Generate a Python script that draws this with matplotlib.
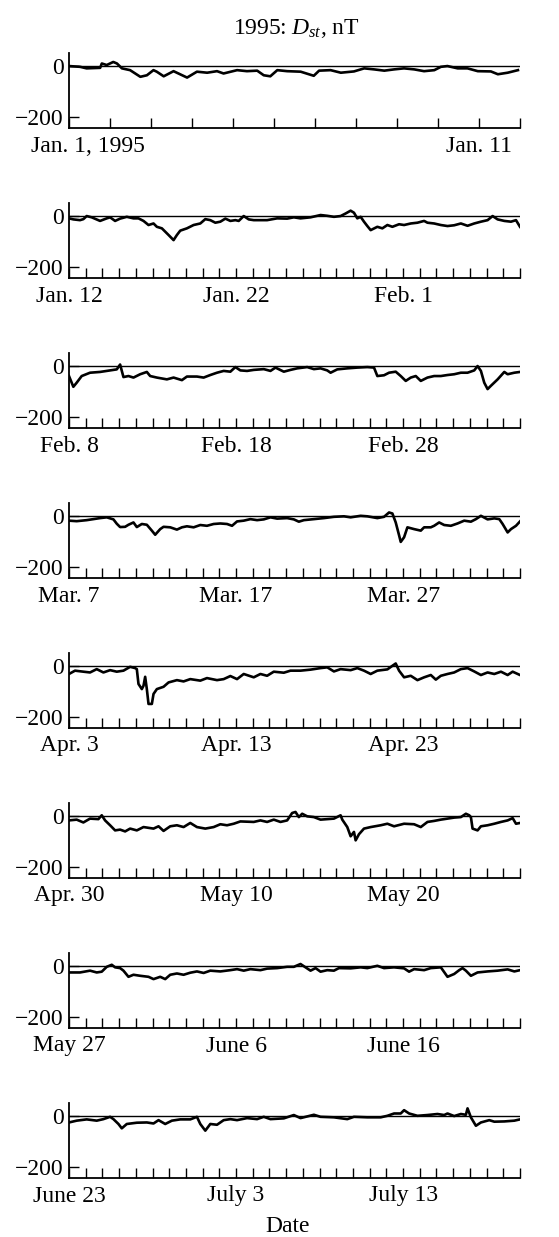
import matplotlib
matplotlib.use("Agg")
import matplotlib.pyplot as plt

plt.rcParams['font.family'] = ['Liberation Serif', 'DejaVu Serif']
plt.rcParams['mathtext.fontset'] = 'custom'
plt.rcParams['mathtext.rm'] = 'Liberation Serif'
plt.rcParams['mathtext.it'] = 'Liberation Serif:italic'

# ---- data: (day offset from panel start, Dst in nT) ----
jan01 = [(0.00, 0), (0.27, -3), (0.43, -9), (0.76, -7), (0.80, 10), (0.92, 4), (1.08, 16),
         (1.17, 10), (1.29, -9), (1.49, -16), (1.74, -42), (1.90, -36), (2.06, -16),
         (2.14, -22), (2.31, -40), (2.55, -20), (2.88, -45), (3.12, -22), (3.37, -26),
         (3.61, -20), (3.77, -29), (4.10, -16), (4.34, -20), (4.59, -18), (4.75, -36),
         (4.91, -40), (5.08, -16), (5.32, -20), (5.65, -22), (5.97, -38), (6.10, -18),
         (6.38, -16), (6.63, -26), (6.95, -21), (7.20, -9), (7.44, -13), (7.69, -18),
         (7.93, -13), (8.17, -9), (8.42, -13), (8.66, -20), (8.91, -16), (9.07, -3),
         (9.23, 0), (9.48, -9), (9.72, -9), (9.97, -20), (10.29, -21), (10.46, -32),
         (10.70, -26), (10.95, -16)]

jan12 = [(0, -9), (0.26, -13), (0.66, -16), (0.86, -12), (1.06, 0), (1.36, -5), (1.86, -19),
         (2.26, -9), (2.46, -5), (2.76, -19), (3.06, -10), (3.46, -3), (3.86, -9), (4.16, -9),
         (4.46, -19), (4.76, -35), (5.06, -29), (5.26, -42), (5.56, -48), (5.76, -61),
         (5.96, -74), (6.26, -94), (6.46, -74), (6.66, -57), (7.06, -48), (7.46, -35),
         (7.86, -29), (8.16, -12), (8.46, -16), (8.76, -26), (9.06, -22), (9.36, -10),
         (9.66, -19), (9.96, -16), (10.16, -19), (10.46, 0), (10.76, -13), (11.06, -16),
         (11.86, -16), (12.46, -9), (13.06, -10), (13.46, -5), (13.86, -9), (14.46, -5),
         (15.06, 4), (15.46, 1), (15.86, -3), (16.26, 0), (16.56, 10), (16.86, 21),
         (17.06, 13), (17.26, -9), (17.46, -3), (17.66, -22), (17.86, -39), (18.06, -55),
         (18.46, -42), (18.76, -48), (19.06, -35), (19.36, -42), (19.76, -32), (20.06, -35),
         (20.46, -29), (20.86, -26), (21.26, -19), (21.46, -26), (21.86, -29), (22.26, -35),
         (22.66, -39), (23.06, -36), (23.46, -29), (23.86, -38), (24.26, -29), (24.66, -22),
         (25.06, -16), (25.36, 0), (25.66, -13), (26.06, -19), (26.46, -22), (26.76, -16),
         (27.0, -42)]

feb08 = [(0, -39), (0.26, -81), (0.46, -65), (0.76, -39), (1.26, -26), (1.86, -23), (2.46, -17),
         (2.86, -13), (3.06, 6), (3.26, -43), (3.56, -39), (3.86, -45), (4.26, -32), (4.66, -23),
         (4.86, -39), (5.26, -45), (5.86, -52), (6.26, -45), (6.76, -55), (7.06, -41),
         (7.66, -41), (8.06, -45), (8.46, -35), (8.86, -26), (9.26, -19), (9.66, -22),
         (9.96, -4), (10.26, -17), (10.66, -19), (11.06, -15), (11.66, -12), (12.06, -19),
         (12.36, -6), (12.86, -22), (13.26, -15), (13.66, -9), (14.26, -4), (14.66, -12),
         (15.06, -9), (15.46, -17), (15.66, -26), (16.06, -13), (16.66, -9), (17.26, -6),
         (17.86, -4), (18.26, -6), (18.46, -39), (18.86, -36), (19.16, -26), (19.56, -22),
         (19.86, -39), (20.16, -58), (20.46, -45), (20.76, -39), (21.06, -58), (21.46, -45),
         (21.86, -39), (22.26, -39), (22.66, -35), (23.06, -32), (23.46, -26), (23.86, -26),
         (24.26, -17), (24.46, 0), (24.66, -19), (24.86, -65), (25.06, -90), (25.26, -77),
         (25.66, -52), (26.06, -23), (26.26, -32), (26.66, -26), (27.0, -23)]

mar07 = [(0, -18), (0.46, -20), (1.06, -16), (1.46, -12), (1.86, -8), (2.26, -5), (2.66, -13),
         (2.86, -30), (3.06, -43), (3.36, -42), (3.56, -34), (3.86, -25), (4.06, -43),
         (4.36, -31), (4.66, -34), (4.96, -57), (5.16, -73), (5.46, -51), (5.66, -42),
         (6.06, -44), (6.46, -53), (6.76, -44), (7.06, -40), (7.46, -44), (7.86, -35),
         (8.26, -38), (8.66, -31), (9.06, -29), (9.46, -31), (9.76, -38), (10.06, -21),
         (10.46, -18), (10.86, -12), (11.26, -16), (11.66, -13), (12.06, -5), (12.46, -10),
         (13.06, -8), (13.46, -13), (13.76, -22), (14.06, -16), (14.66, -12), (15.26, -8),
         (15.86, -3), (16.46, -1), (16.86, -5), (17.46, 1), (17.86, -1), (18.46, -8),
         (18.86, -3), (19.16, 14), (19.36, 10), (19.56, -25), (19.76, -75), (19.86, -101),
         (20.06, -83), (20.26, -44), (20.66, -51), (21.06, -57), (21.26, -44), (21.66, -44),
         (21.86, -38), (22.16, -25), (22.46, -35), (22.86, -38), (23.26, -29), (23.66, -18),
         (24.06, -22), (24.36, -12), (24.66, 1), (25.06, -13), (25.46, -9), (25.76, -12),
         (25.96, -31), (26.26, -64), (26.46, -51), (26.76, -38), (27.0, -21)]

apr03 = [(0, -31), (0.36, -18), (0.86, -22), (1.26, -25), (1.66, -12), (2.06, -25), (2.46, -16),
         (2.86, -22), (3.26, -18), (3.66, -3), (3.96, -8), (4.06, -12), (4.16, -70),
         (4.36, -90), (4.46, -77), (4.56, -42), (4.66, -90), (4.76, -148), (4.96, -148),
         (5.06, -109), (5.26, -90), (5.66, -81), (5.96, -64), (6.46, -55), (6.86, -60),
         (7.26, -51), (7.86, -57), (8.26, -47), (8.86, -55), (9.26, -51), (9.66, -39),
         (10.06, -51), (10.46, -31), (11.06, -44), (11.46, -31), (11.86, -38), (12.26, -22),
         (12.86, -26), (13.26, -18), (13.86, -18), (14.46, -14), (15.06, -8), (15.46, -5),
         (15.86, -21), (16.26, -12), (16.86, -16), (17.26, -8), (17.66, -18), (18.06, -31),
         (18.46, -18), (19.06, -13), (19.36, 1), (19.56, 10), (19.76, -18), (20.06, -44),
         (20.46, -38), (20.86, -55), (21.26, -44), (21.66, -35), (21.96, -53), (22.26, -38),
         (22.66, -31), (23.06, -25), (23.46, -12), (23.86, -8), (24.26, -21), (24.66, -35),
         (25.06, -25), (25.46, -31), (25.86, -22), (26.26, -35), (26.56, -22), (27.0, -35)]

apr30 = [(0, -17), (0.46, -14), (0.86, -25), (1.26, -10), (1.76, -12), (1.96, 3), (2.16, -17),
         (2.46, -36), (2.76, -56), (3.06, -53), (3.36, -60), (3.66, -49), (4.06, -56),
         (4.46, -43), (5.06, -49), (5.36, -40), (5.66, -58), (6.06, -40), (6.46, -36),
         (6.86, -43), (7.26, -27), (7.66, -43), (8.16, -49), (8.66, -43), (9.06, -32),
         (9.46, -36), (9.86, -30), (10.26, -21), (11.06, -23), (11.46, -17), (11.86, -23),
         (12.26, -14), (12.66, -23), (13.06, -17), (13.36, 12), (13.56, 16), (13.76, -4),
         (13.96, 9), (14.26, -1), (14.66, -4), (15.06, -14), (15.46, -12), (15.86, -10),
         (16.26, 3), (16.36, -14), (16.66, -43), (16.86, -79), (17.06, -62), (17.16, -95),
         (17.36, -71), (17.66, -49), (18.06, -43), (18.66, -36), (19.06, -30), (19.46, -40),
         (20.06, -30), (20.66, -32), (21.06, -43), (21.46, -23), (21.86, -19), (22.26, -14),
         (22.66, -10), (23.06, -6), (23.46, -4), (23.76, 9), (23.96, 3), (24.06, -4),
         (24.16, -49), (24.46, -56), (24.66, -40), (25.06, -36), (25.46, -30), (25.86, -23),
         (26.26, -17), (26.56, -8), (26.76, -30), (27.0, -27)]

may27 = [(0, -25), (0.66, -25), (1.26, -18), (1.66, -25), (1.96, -22), (2.26, -3), (2.56, 5),
         (2.76, -5), (3.06, -8), (3.26, -18), (3.56, -42), (3.86, -34), (4.26, -38),
         (4.76, -42), (5.06, -51), (5.46, -42), (5.76, -51), (6.06, -34), (6.46, -29),
         (6.86, -34), (7.26, -26), (7.66, -21), (8.06, -27), (8.46, -18), (9.06, -21),
         (9.66, -16), (10.06, -12), (10.46, -18), (10.86, -12), (11.46, -16), (11.86, -10),
         (12.46, -8), (13.06, -3), (13.46, -3), (13.86, 8), (14.16, -5), (14.46, -18),
         (14.76, -8), (15.06, -22), (15.46, -16), (15.86, -18), (16.16, -8), (16.86, -9),
         (17.46, -5), (17.86, -8), (18.46, 1), (18.86, -8), (19.46, -5), (20.06, -9),
         (20.36, -22), (20.66, -12), (21.26, -16), (21.66, -8), (22.26, -5), (22.66, -42),
         (23.06, -31), (23.36, -16), (23.56, -8), (23.76, -18), (24.06, -38), (24.46, -25),
         (25.06, -21), (25.66, -18), (26.26, -13), (26.66, -21), (27.0, -16)]

jun23 = [(0, -25), (0.46, -18), (1.06, -13), (1.66, -18), (2.06, -12), (2.46, -3), (2.66, -12),
         (2.96, -31), (3.16, -48), (3.46, -31), (4.06, -26), (4.66, -25), (5.06, -29),
         (5.36, -16), (5.76, -31), (6.16, -18), (6.66, -13), (7.26, -13), (7.66, -3),
         (7.86, -31), (8.16, -57), (8.46, -31), (8.86, -34), (9.26, -16), (9.66, -12),
         (10.06, -16), (10.66, -8), (11.26, -12), (11.66, -3), (12.06, -12), (12.86, -9),
         (13.46, 4), (13.86, -8), (14.66, 5), (15.06, -3), (15.86, -5), (16.66, -12),
         (17.06, -3), (17.86, -5), (18.66, -5), (19.06, 1), (19.46, 10), (19.86, 10),
         (20.06, 23), (20.36, 10), (20.86, 1), (21.46, 4), (22.06, 8), (22.46, 4),
         (22.66, 10), (23.06, 0), (23.46, 8), (23.76, 5), (23.86, 30), (24.06, -5),
         (24.36, -38), (24.66, -25), (25.16, -16), (25.46, -22), (26.06, -21), (26.66, -18),
         (27.0, -13)]

series = [jan01, jan12, feb08, mar07, apr03, apr30, may27, jun23]
n_days = [11, 27, 27, 27, 27, 27, 27, 27]
date_labels = [["Jan. 1, 1995", "Jan. 11"],
               ["Jan. 12", "Jan. 22", "Feb. 1"],
               ["Feb. 8", "Feb. 18", "Feb. 28"],
               ["Mar. 7", "Mar. 17", "Mar. 27"],
               ["Apr. 3", "Apr. 13", "Apr. 23"],
               ["Apr. 30", "May 10", "May 20"],
               ["May 27", "June 6", "June 16"],
               ["June 23", "July 3", "July 13"]]
label_days = [[0.46, 10], [0, 10, 20], [0, 10, 20], [0, 10, 20],
              [0, 10, 20], [0, 10, 20], [0, 10, 20], [0, 10, 20]]
y_ticks = [0, -200]
y_ticklabels = ["0", "\u2212200"]

# ---- layout ----
W, H = 559, 1237
fig = plt.figure(figsize=(W / 100, H / 100), dpi=100)
FS = 17

for k, data in enumerate(series):
    top = 53 + 150 * k
    ax = fig.add_axes([69 / W, 1 - (top + 75) / H, 451 / W, 75 / H])
    d = [p[0] for p in data]
    v = [p[1] for p in data]
    ax.axhline(0, color='black', lw=1.0, zorder=1)
    ax.plot(d, v, color='black', lw=1.9, solid_joinstyle='round', zorder=2)
    ax.set_xlim(0, n_days[k])
    ax.set_ylim(-242, 51)
    for s in ['top', 'right']:
        ax.spines[s].set_visible(False)
    for s in ['left', 'bottom']:
        ax.spines[s].set_linewidth(1.3)
    ax.set_xticks(range(n_days[k] + 1))
    ax.set_xticklabels([])
    ax.set_yticks(y_ticks)
    ax.set_yticklabels(y_ticklabels, fontsize=FS)
    ax.tick_params(axis='both', direction='in', length=7.2, width=1.0, color='black')
    ax.tick_params(axis='y', pad=4)
    for x, lab in zip(label_days[k], date_labels[k]):
        ax.text(x, -0.10, lab, transform=ax.get_xaxis_transform(),
                ha='center', va='top', fontsize=FS)

fig.text(296 / W, 1 - 28 / H, "1995: $D_{st}$, nT", ha='center', va='center', fontsize=FS)
fig.text(288 / W, 1 - 1227 / H, "Date", ha='center', va='center', fontsize=FS)

fig.savefig("out.png", dpi=100)
